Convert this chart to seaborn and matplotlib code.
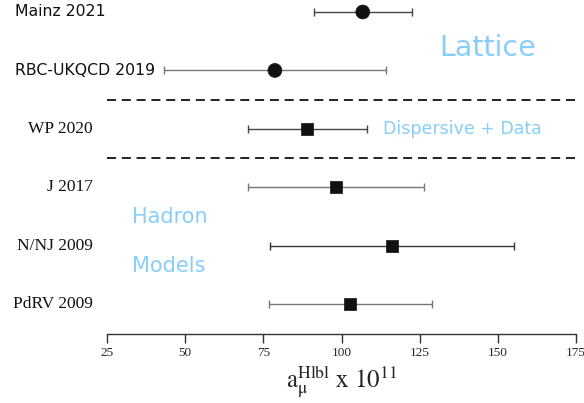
import numpy as np
import pandas as pd
import matplotlib
matplotlib.use("Agg")
import matplotlib.pyplot as plt
import seaborn as sns

# values (a_mu HLbL x 10^11)
labels = ["Mainz 2021", "RBC-UKQCD 2019", "WP 2020", "J 2017", "N/NJ 2009", "PdRV 2009"]
centers = [106.8, 78.7, 89.0, 98.2, 116.1, 102.8]
lows = [91.2, 43.3, 70.0, 70.1, 77.0, 76.8]
highs = [122.5, 114.1, 108.1, 126.5, 155.1, 128.9]
kinds = ["Lattice", "Lattice", "Dispersive", "Model", "Model", "Model"]
label_fonts = ["sans", "sans", "serif", "serif", "serif", "serif"]
bar_colors = ["#444444", "#777777", "#444444", "#777777", "#333333", "#777777"]

df = pd.DataFrame({"label": labels, "center": centers, "low": lows,
                   "high": highs, "kind": kinds})
df["row"] = np.arange(len(df))

sns.set_style("white")
plt.rcParams["mathtext.fontset"] = "stix"

fig = plt.figure(figsize=(5.84, 4.03), dpi=100)
ax = fig.add_axes([107 / 584, 69 / 403, 469 / 584, 334 / 403])

# error bars
for i, r in df.iterrows():
    ax.errorbar(r["center"], r["row"],
                xerr=[[r["center"] - r["low"]], [r["high"] - r["center"]]],
                fmt="none", ecolor=bar_colors[i], elinewidth=1.0,
                capsize=3, capthick=1.0, zorder=2)

# markers
sns.scatterplot(data=df, x="center", y="row", style="kind",
                markers={"Lattice": "o", "Dispersive": "s", "Model": "s"},
                size="kind", sizes={"Lattice": 100, "Dispersive": 72, "Model": 72},
                color="#111111", edgecolor="#111111", linewidth=0.5,
                legend=False, ax=ax, zorder=3)

# group separators
for yy in [1.5, 2.5]:
    ax.axhline(yy, color="#111111", lw=1.3, ls=(0, (5, 3.2)))

ax.set_xlim(25, 175)
ax.set_ylim(5.51, -0.205)
ax.set_xticks([25, 50, 75, 100, 125, 150, 175])
ax.set_yticks([])
ax.set_ylabel("")
ax.set_xlabel(r"$\mathrm{a}_{\mathrm{\mu}}^{\mathrm{Hlbl}}\ \mathrm{x}\ 10^{11}$",
              fontsize=18, labelpad=3)
for s in ["left", "top", "right"]:
    ax.spines[s].set_visible(False)
ax.spines["bottom"].set_color("#333333")
ax.spines["bottom"].set_linewidth(1.0)
ax.tick_params(axis="x", bottom=True, direction="out", length=6.5, width=1,
               color="#333333", pad=3, labelsize=9.5)
for t in ax.get_xticklabels():
    t.set_family("Liberation Serif")

# row labels
for i, r in df.iterrows():
    if label_fonts[i] == "sans":
        ax.annotate(r["label"], xy=(15 / 584, r["row"]),
                    xycoords=("figure fraction", "data"),
                    ha="left", va="center", fontsize=11.3,
                    family="DejaVu Sans", color="#111111")
    else:
        ax.annotate(r["label"], xy=(93 / 584, r["row"]),
                    xycoords=("figure fraction", "data"),
                    ha="right", va="center", fontsize=12.5,
                    family="Liberation Serif", color="#111111")

blue = "#87CEFA"
ax.text(146.8, 0.62, "Lattice", color=blue, fontsize=20.5, ha="center", va="center")
ax.text(113.2, 2.0, "Dispersive + Data", color=blue, fontsize=12.5, ha="left", va="center")
ax.text(33.0, 3.51, "Hadron", color=blue, fontsize=15, ha="left", va="center")
ax.text(33.0, 4.35, "Models", color=blue, fontsize=15, ha="left", va="center")

fig.savefig("out.png", dpi=100)
